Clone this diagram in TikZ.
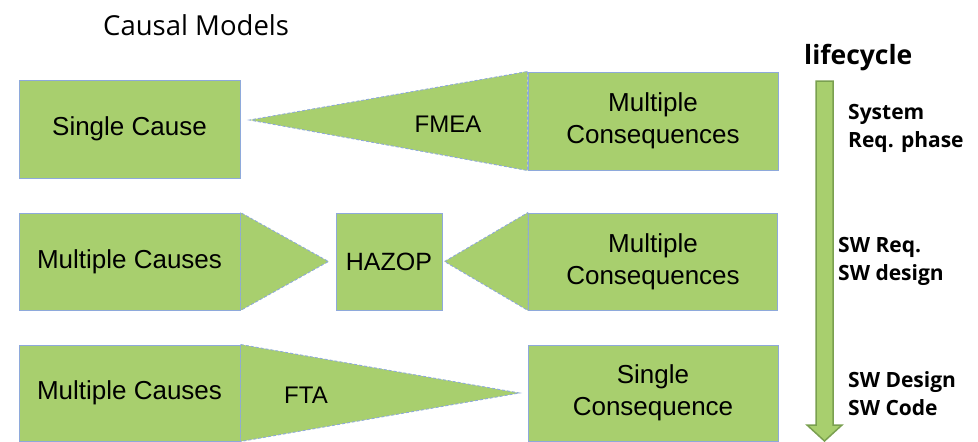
\documentclass[tikz,border=0pt]{standalone}
\usepackage{fontspec}
\setmainfont{Liberation Sans}
\newfontfamily\headfont{Open Sans}
\usetikzlibrary{calc}

\definecolor{boxgreen}{RGB}{168,207,110}
\definecolor{boxblue}{RGB}{142,169,219}
\definecolor{arrowrim}{RGB}{122,160,80}

\tikzset{
  box/.style={draw=boxblue, line width=1pt, fill=boxgreen, inner sep=0pt,
    align=center, font=\fontsize{26}{32}\selectfont},
  wedge/.style={fill=boxgreen, draw=boxblue, line width=0.9pt,
    dash pattern=on 3pt off 2pt},
  wedgetext/.style={font=\fontsize{24}{28}\selectfont, inner sep=0pt},
  phase/.style={font=\headfont\bfseries\fontsize{21}{28}\selectfont,
    align=left, anchor=west, inner sep=0pt},
  lifearrow/.style={fill=boxgreen, draw=arrowrim, line width=1.5pt, line join=miter}
}

\begin{document}
\begin{tikzpicture}[x=1pt, y=-1pt]
\useasboundingbox (0,0) rectangle (978,442);

% title
\node[font=\headfont\fontsize{27.5}{32}\selectfont, anchor=base west, inner sep=0pt]
  (title) at (103,35) {Causal Models};

% row 1: FMEA
\node[box, minimum width=221pt, minimum height=98pt] (sc) at (129.5,129) {Single Cause};
\node[box, minimum width=250pt, minimum height=98pt] (mcq1) at (653,121) {Multiple\\Consequences};
\coordinate (fmeatip) at ($(sc.east)+(9,-9)$);
\filldraw[wedge] (mcq1.north west) -- (mcq1.south west) -- (fmeatip) -- cycle;
\node[wedgetext] (fmea) at (448,124) {FMEA};

% row 2: HAZOP
\node[box, minimum width=221pt, minimum height=97pt] (mca) at (129.5,261.5) {Multiple Causes};
\node[box, minimum width=106pt, minimum height=97pt, font=\fontsize{25}{30}\selectfont] (hz) at (389,261.5) {HAZOP};
\node[box, minimum width=249pt, minimum height=97pt] (mcq2) at (653,261.5) {Multiple\\Consequences};
\filldraw[wedge] (mca.north east) -- (mca.south east) -- ($(hz.west)+(-7,0)$) -- cycle;
\filldraw[wedge] (mcq2.north west) -- (mcq2.south west) -- ($(hz.east)+(2,0)$) -- cycle;

% row 3: FTA
\node[box, minimum width=221pt, minimum height=96pt] (mcb) at (129.5,393) {Multiple Causes};
\node[box, minimum width=250pt, minimum height=96pt] (scq) at (653,393) {Single\\Consequence};
\filldraw[wedge] (mcb.north east) -- (mcb.south east) -- ($(scq.west)+(-8,0)$) -- cycle;
\node[wedgetext] (fta) at (306,395) {FTA};

% lifecycle arrow
\filldraw[lifearrow] (816,81) -- (833,81) -- (833,425) -- (842,425) -- (824.5,441)
  -- (807,425) -- (816,425) -- cycle;
\node[font=\headfont\bfseries\fontsize{26.5}{32}\selectfont, anchor=base west, inner sep=0pt]
  (life) at (804,64) {lifecycle};
\node[phase] (ph1) at (848,128.5) {System\\Req. phase};
\node[phase] (ph2) at (838,261.5) {SW Req.\\SW design};
\node[phase] (ph3) at (848,393.5) {SW Design\\SW Code};
\end{tikzpicture}
\end{document}
